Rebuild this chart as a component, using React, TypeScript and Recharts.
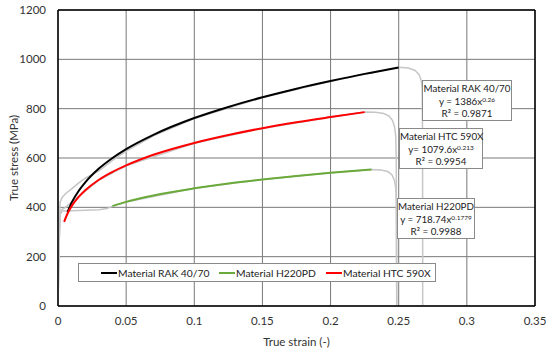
import React from 'react';
import { LineChart, Line, XAxis, YAxis, CartesianGrid, ReferenceLine } from 'recharts';

// fitted power-law curves
const rakFit = [
  { x: 0.007, y: 381 }, { x: 0.01, y: 419 }, { x: 0.015, y: 465 }, { x: 0.02, y: 501 },
  { x: 0.03, y: 557 }, { x: 0.04, y: 600 }, { x: 0.05, y: 636 }, { x: 0.07, y: 694 },
  { x: 0.1, y: 762 }, { x: 0.125, y: 807 }, { x: 0.15, y: 846 }, { x: 0.175, y: 881 },
  { x: 0.2, y: 912 }, { x: 0.225, y: 941 }, { x: 0.25, y: 967 },
];
const htcFit = [
  { x: 0.0045, y: 341 }, { x: 0.007, y: 375 }, { x: 0.01, y: 405 }, { x: 0.015, y: 441 },
  { x: 0.02, y: 469 }, { x: 0.03, y: 512 }, { x: 0.04, y: 544 }, { x: 0.05, y: 570 },
  { x: 0.07, y: 613 }, { x: 0.1, y: 661 }, { x: 0.125, y: 693 }, { x: 0.15, y: 721 },
  { x: 0.175, y: 745 }, { x: 0.2, y: 766 }, { x: 0.225, y: 786 },
];
const h220Fit = [
  { x: 0.04, y: 405 }, { x: 0.05, y: 422 }, { x: 0.07, y: 448 }, { x: 0.1, y: 477 },
  { x: 0.125, y: 497 }, { x: 0.15, y: 513 }, { x: 0.175, y: 527 }, { x: 0.2, y: 540 },
  { x: 0.23, y: 553 },
];

// measured curves (grey)
const rakTest = [
  { x: 0, y: 0 }, { x: 0.0008, y: 250 }, { x: 0.0015, y: 420 }, { x: 0.003, y: 440 },
  { x: 0.006, y: 458 }, { x: 0.01, y: 475 }, { x: 0.015, y: 498 }, { x: 0.02, y: 518 },
  { x: 0.03, y: 548 }, { x: 0.04, y: 590 }, { x: 0.05, y: 628 }, { x: 0.07, y: 690 },
  { x: 0.1, y: 760 }, { x: 0.15, y: 845 }, { x: 0.2, y: 911 }, { x: 0.25, y: 968 },
  { x: 0.257, y: 965 }, { x: 0.262, y: 955 }, { x: 0.265, y: 938 }, { x: 0.2665, y: 915 },
  { x: 0.2672, y: 880 }, { x: 0.2675, y: 700 }, { x: 0.2676, y: 0 },
];
const htcTest = [
  { x: 0, y: 0 }, { x: 0.0008, y: 250 }, { x: 0.0015, y: 370 }, { x: 0.0025, y: 390 },
  { x: 0.005, y: 398 }, { x: 0.008, y: 412 }, { x: 0.012, y: 430 }, { x: 0.02, y: 466 },
  { x: 0.03, y: 510 }, { x: 0.05, y: 568 }, { x: 0.1, y: 660 }, { x: 0.15, y: 720 },
  { x: 0.2, y: 765 }, { x: 0.225, y: 786 }, { x: 0.233, y: 785 }, { x: 0.239, y: 780 },
  { x: 0.243, y: 770 }, { x: 0.2455, y: 752 }, { x: 0.247, y: 725 }, { x: 0.2478, y: 690 },
  { x: 0.2482, y: 600 }, { x: 0.2485, y: 0 },
];
const h220Test = [
  { x: 0, y: 0 }, { x: 0.0008, y: 250 }, { x: 0.0015, y: 370 }, { x: 0.003, y: 385 },
  { x: 0.01, y: 386 }, { x: 0.02, y: 388 }, { x: 0.03, y: 390 }, { x: 0.036, y: 395 },
  { x: 0.04, y: 405 }, { x: 0.05, y: 422 }, { x: 0.1, y: 477 }, { x: 0.15, y: 513 },
  { x: 0.2, y: 540 }, { x: 0.23, y: 553 }, { x: 0.237, y: 551 }, { x: 0.242, y: 545 },
  { x: 0.245, y: 532 }, { x: 0.2468, y: 510 }, { x: 0.2478, y: 480 }, { x: 0.2483, y: 420 },
  { x: 0.2486, y: 0 },
];

const xTicks = [0, 0.05, 0.1, 0.15, 0.2, 0.25, 0.3, 0.35];
const yTicks = [0, 200, 400, 600, 800, 1000, 1200];

const legendItems = [
  { name: 'Material RAK 40/70', color: '#000000' },
  { name: 'Material H220PD', color: '#6aaa3a' },
  { name: 'Material HTC 590X', color: '#ff0000' },
];

const notes = [
  { title: 'Material RAK 40/70', eq: 'y = 1386x', exp: '0.26', r2: 'R² = 0.9871', left: 422, top: 80, w: 90 },
  { title: 'Material HTC 590X', eq: 'y= 1079.6x', exp: '0.213', r2: 'R² = 0.9954', left: 399, top: 128, w: 84 },
  { title: 'Material H220PD', eq: 'y = 718.74x', exp: '0.1779', r2: 'R² = 0.9988', left: 397, top: 198, w: 78 },
];

const font = 'Lato, "Open Sans", sans-serif';
const grey = '#c6c6c6';

export default function App() {
  return (
    <div style={{ position: 'absolute', left: 0, top: 0, width: 550, height: 350, background: '#fff', fontFamily: font }}>
      <LineChart width={550} height={350} margin={{ top: 10, right: 15, left: 0, bottom: 14 }}>
        <CartesianGrid stroke="#787878" strokeWidth={1} />
        <XAxis
          type="number"
          dataKey="x"
          domain={[0, 0.35]}
          ticks={xTicks}
          allowDataOverflow
          height={30}
          tickLine={false}
          tickSize={6}
          tickMargin={5}
          axisLine={{ stroke: '#000', strokeWidth: 1.5 }}
          tick={{ fill: '#333', fontSize: 11.5, fontFamily: font }}
          label={{ value: 'True strain (-)', position: 'insideBottom', offset: -10, fill: '#333', fontSize: 11.5, fontFamily: font }}
        />
        <YAxis
          type="number"
          domain={[0, 1200]}
          ticks={yTicks}
          width={58}
          tickLine={false}
          tickSize={6}
          tickMargin={6}
          axisLine={{ stroke: '#000', strokeWidth: 1.5 }}
          tick={{ fill: '#333', fontSize: 11.5, fontFamily: font }}
          label={{ value: 'True stress (MPa)', angle: -90, position: 'insideLeft', offset: 14, fill: '#333', fontSize: 11.5, fontFamily: font, style: { textAnchor: 'middle' } }}
        />
        <ReferenceLine y={1200} stroke="#000" strokeWidth={1.5} />
        <ReferenceLine x={0.35} stroke="#000" strokeWidth={1.5} />
        <Line data={rakTest} dataKey="y" type="linear" stroke={grey} strokeWidth={1.5} dot={false} isAnimationActive={false} />
        <Line data={htcTest} dataKey="y" type="linear" stroke={grey} strokeWidth={1.5} dot={false} isAnimationActive={false} />
        <Line data={h220Test} dataKey="y" type="linear" stroke={grey} strokeWidth={1.5} dot={false} isAnimationActive={false} />
        <Line data={rakFit} dataKey="y" name="Material RAK 40/70" type="monotone" stroke="#000" strokeWidth={2} dot={false} isAnimationActive={false} />
        <Line data={h220Fit} dataKey="y" name="Material H220PD" type="monotone" stroke="#6aaa3a" strokeWidth={2} dot={false} isAnimationActive={false} />
        <Line data={htcFit} dataKey="y" name="Material HTC 590X" type="monotone" stroke="#ff0000" strokeWidth={2} dot={false} isAnimationActive={false} />
      </LineChart>

      <div style={{ position: 'absolute', left: 78, top: 263, width: 358, height: 19, boxSizing: 'border-box', border: '1px solid #8a8a8a', background: '#fff', fontSize: 10.3, color: '#222' }}>
        {legendItems.map((it, i) => (
          <div key={it.name} style={{ position: 'absolute', left: [22, 140, 247][i], top: 0, height: 17, display: 'flex', alignItems: 'center', whiteSpace: 'nowrap' }}>
            <span style={{ display: 'inline-block', width: 16, height: 2, background: it.color, marginRight: 1 }} />
            <span>{it.name}</span>
          </div>
        ))}
      </div>

      {notes.map((n) => (
        <div
          key={n.title}
          style={{
            position: 'absolute', left: n.left, top: n.top, width: n.w, height: 41,
            border: '1px solid #8a8a8a', background: '#fff', boxSizing: 'border-box',
            fontSize: 9.8, color: '#222', textAlign: 'center', lineHeight: '12.7px',
            whiteSpace: 'nowrap', paddingTop: 1,
          }}
        >
          <div>{n.title}</div>
          <div>{n.eq}<sup style={{ fontSize: 6.5, verticalAlign: 'top', lineHeight: '9px' }}>{n.exp}</sup></div>
          <div>{n.r2}</div>
        </div>
      ))}
    </div>
  );
}
